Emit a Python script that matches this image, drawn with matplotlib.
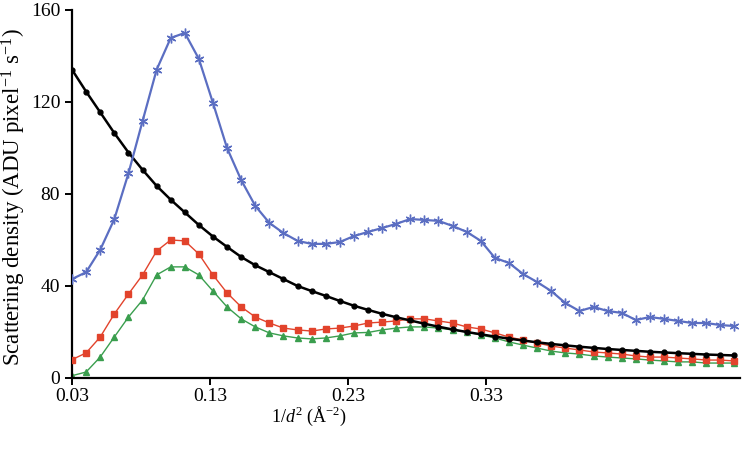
import matplotlib
matplotlib.use("Agg")
import matplotlib.pyplot as plt

# --- data (x = 1/d^2 in A^-2) ---
inv_d2 = [0.0300, 0.0402, 0.0504, 0.0606, 0.0709, 0.0811, 0.0913, 0.1015,
          0.1117, 0.1219, 0.1321, 0.1423, 0.1526, 0.1628, 0.1730, 0.1832,
          0.1934, 0.2036, 0.2138, 0.2240, 0.2343, 0.2445, 0.2547, 0.2649,
          0.2751, 0.2853, 0.2955, 0.3057, 0.3160, 0.3262, 0.3364, 0.3466,
          0.3568, 0.3670, 0.3772, 0.3874, 0.3977, 0.4079, 0.4181, 0.4283,
          0.4385, 0.4487, 0.4589, 0.4691, 0.4794, 0.4896, 0.4998, 0.5100]

blue_star = [43, 46, 55.7, 69, 89, 111.7, 134, 147.8, 150, 138.7, 119.6, 100,
             86, 74.8, 67.4, 63, 59.6, 58.3, 58.3, 59.1, 61.7, 63.5, 65.2, 67,
             69.1, 68.7, 68.3, 66.1, 63.5, 59.6, 52.2, 50, 45.2, 41.7, 37.8, 32.6,
             29.1, 30.9, 29.1, 28.3, 25.2, 26.5, 25.7, 24.8, 23.9, 23.9, 23, 22.6]

black_dot = [134, 124.5, 115.5, 106.5, 98, 90.5, 83.5, 77.5, 72, 66.5, 61.5, 57,
             52.6, 49, 46, 43, 40, 37.8, 35.7, 33.5, 31.4, 29.6, 27.9, 26.4,
             25, 23.6, 22.3, 21.1, 20, 19, 18, 17.1, 16.3, 15.5, 14.8, 14.2,
             13.6, 13.1, 12.6, 12.2, 11.8, 11.4, 11.1, 10.8, 10.5, 10.2, 10.0, 9.8]

red_square = [8, 10.9, 17.8, 27.8, 36.5, 44.8, 55.2, 60, 59.6, 53.9, 44.8, 37,
              30.9, 26.5, 23.9, 21.7, 20.9, 20.4, 21.3, 21.7, 22.6, 23.9, 24.3, 24.8,
              25.7, 25.7, 24.8, 23.9, 22.2, 21.3, 19.6, 17.8, 16.5, 15.2, 13.9, 13,
              12.2, 11.3, 10.9, 10.4, 9.6, 9.1, 9.1, 8.7, 8.3, 7.8, 7.8, 7.4]

green_tri = [1, 2.6, 9.1, 17.8, 26.5, 33.9, 44.8, 48.3, 48.3, 44.8, 37.8, 30.9,
             25.7, 22.2, 19.6, 18.3, 17.4, 17, 17.4, 18.3, 19.6, 19.8, 20.9, 21.7,
             22.2, 22.2, 21.7, 20.9, 20, 18.7, 17.4, 15.7, 14.3, 13, 11.7, 10.9,
             10.4, 9.6, 9.1, 8.7, 8.3, 7.8, 7.4, 7, 7, 6.5, 6.5, 6.5]

x_ticks = [0.03, 0.13, 0.23, 0.33]
y_ticks = [0, 40, 80, 120, 160]

# --- style ---
plt.rcParams['font.family'] = ['Liberation Serif', 'DejaVu Serif']
plt.rcParams['mathtext.fontset'] = 'custom'
plt.rcParams['mathtext.rm'] = 'Liberation Serif'
plt.rcParams['mathtext.it'] = 'Liberation Serif:italic'

fig = plt.figure(figsize=(7.48, 4.5), dpi=100)
ax = fig.add_axes([0.0963, 0.16, 0.893, 0.818])

ax.plot(inv_d2, green_tri, '-^', color='#3a9e4e', lw=1.0, ms=4.5, zorder=2)
ax.plot(inv_d2, red_square, '-s', color='#e2432c', lw=1.0, ms=4.5, zorder=3)
ax.plot(inv_d2, black_dot, '-o', color='black', lw=1.8, ms=3.5, zorder=4)
ax.plot(inv_d2, blue_star, '-', color='#5b6ec2', lw=1.6, zorder=5,
        marker=(6, 2, 0), ms=7, mew=1.0)

ax.set_xlim(0.03, 0.514)
ax.set_ylim(0, 160)
ax.set_xticks(x_ticks)
ax.set_xticklabels([f'{t:.2f}' for t in x_ticks])
ax.set_yticks(y_ticks)

for side in ['top', 'right']:
    ax.spines[side].set_visible(False)
for side in ['left', 'bottom']:
    ax.spines[side].set_linewidth(1.6)
ax.tick_params(direction='out', length=5, width=1.4, labelsize=14)
ax.tick_params(axis='x', pad=2)

# x label sits left of centre in the original
ax.set_xlabel(r'1/$\mathit{d}^{2}$ (Å$^{-2}$)', fontsize=13)
ax.xaxis.set_label_coords(0.354, -0.072)
ax.set_ylabel(r'Scattering density (ADU pixel$^{-1}$ s$^{-1}$)', fontsize=16.5)
ax.yaxis.set_label_coords(-0.066, 0.49)

plt.savefig('out.png', dpi=100)
